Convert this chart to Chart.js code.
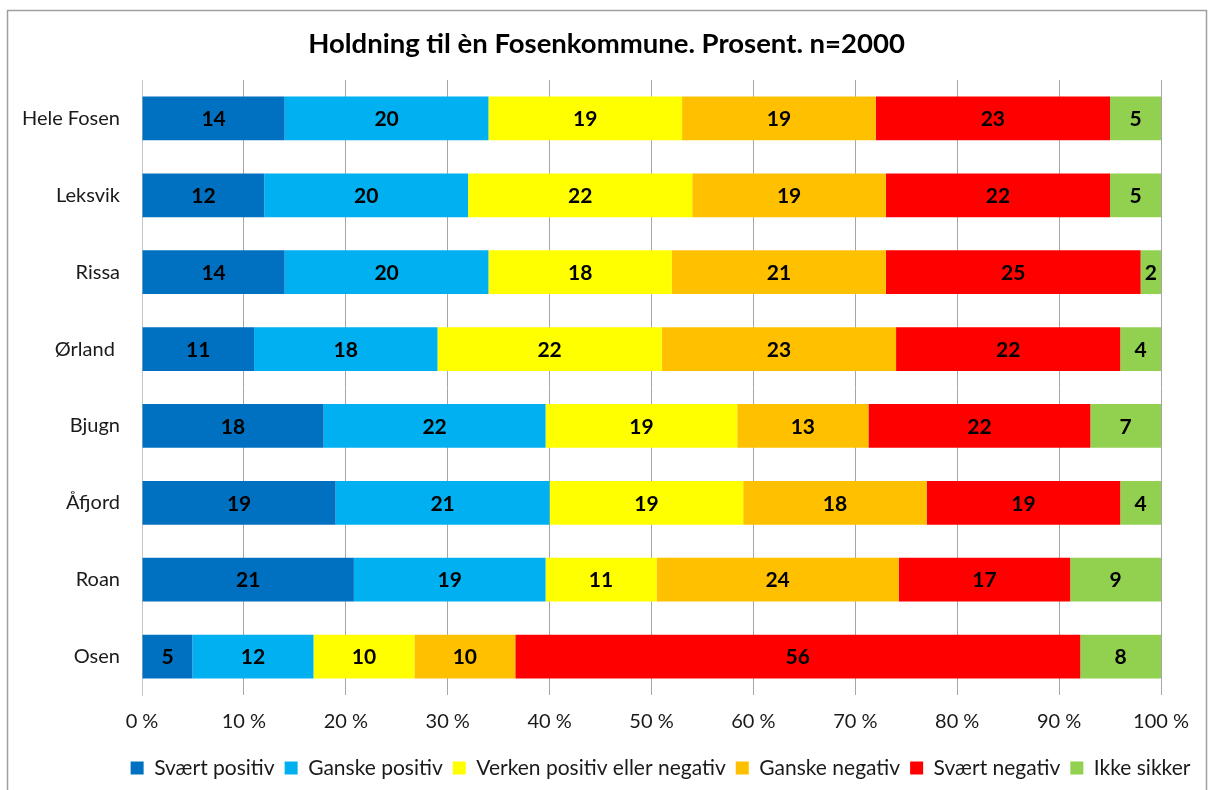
<!DOCTYPE html>
<html>
<head>
<meta charset="utf-8">
<title>Holdning til èn Fosenkommune</title>
<script src="https://cdn.jsdelivr.net/npm/chart.js@4.4.1/dist/chart.umd.min.js"></script>
<style>
    body { margin: 0; background: #ffffff; }
    canvas { display: block; }
</style>
</head>
<body>
<canvas id="myChart" width="1211" height="790"></canvas>
<script>
    // ----------- SETUP BLOCK ------------
    // Data (rounded percentages per kommune)
    const kommuner = ['Hele Fosen', 'Leksvik', 'Rissa', 'Ørland ', 'Bjugn', 'Åfjord', 'Roan', 'Osen'];

    const svaertPositiv = [14, 12, 14, 11, 18, 19, 21, 5];
    const ganskePositiv = [20, 20, 20, 18, 22, 21, 19, 12];
    const verken        = [19, 22, 18, 22, 19, 19, 11, 10];
    const ganskeNegativ = [19, 19, 21, 23, 13, 18, 24, 10];
    const svaertNegativ = [23, 22, 25, 22, 22, 19, 17, 56];
    const ikkeSikker    = [5, 5, 2, 4, 7, 4, 9, 8];

    const serieNavn = ['Svært positiv', 'Ganske positiv', 'Verken positiv eller negativ',
                       'Ganske negativ', 'Svært negativ', 'Ikke sikker'];
    const serieFarger = ['#0070C0', '#00B0F0', '#FFFF00', '#FFC000', '#FF0000', '#92D050'];
    const serier = [svaertPositiv, ganskePositiv, verken, ganskeNegativ, svaertNegativ, ikkeSikker];

    const xTicks = [0, 10, 20, 30, 40, 50, 60, 70, 80, 90, 100];

    // 100 % stacked: each row is scaled by its own total
    const totaler = kommuner.map((k, i) => serier.reduce((sum, s) => sum + s[i], 0));

    const data = {
        labels: kommuner,
        datasets: serier.map((s, j) => ({
            label: serieNavn[j],
            data: s.map((v, i) => v / totaler[i] * 100),
            raw: s,
            backgroundColor: serieFarger[j],
            borderWidth: 0,
            barPercentage: 0.57,
            categoryPercentage: 1.0
        }))
    };

    const fontFamily = 'Lato, "Open Sans", sans-serif';

    // value labels in the middle of each segment
    const verdiEtiketter = {
        id: 'verdiEtiketter',
        afterDatasetsDraw(chart) {
            const ctx = chart.ctx;
            ctx.save();
            ctx.font = 'bold 21px ' + fontFamily;
            ctx.fillStyle = '#000000';
            ctx.textAlign = 'center';
            ctx.textBaseline = 'middle';
            chart.data.datasets.forEach((ds, j) => {
                chart.getDatasetMeta(j).data.forEach((bar, i) => {
                    const x = (bar.x + bar.base) / 2;
                    ctx.fillText(String(ds.raw[i]), x, bar.y + 1);
                });
            });
            ctx.restore();
        }
    };

    // white background + gray frame
    const ramme = {
        id: 'ramme',
        beforeDraw(chart) {
            const ctx = chart.ctx;
            ctx.save();
            ctx.fillStyle = '#ffffff';
            ctx.fillRect(0, 0, chart.width, chart.height);
            ctx.strokeStyle = '#a0a0a0';
            ctx.lineWidth = 1.5;
            ctx.strokeRect(7.5, 10.5, 1199, 800);
            ctx.restore();
        }
    };

    // title and legend are centered on the frame, not on the plot
    const flytt = {
        id: 'flytt',
        afterLayout(chart) {
            const t = chart.titleBlock;
            if (t) { t.left += 26; t.right += 26; }
            const l = chart.legend;
            if (l) { l.left += 80; l.right += 80; }
        }
    };

    // ----- CONFIGURATION BLOCK --------
    const config = {
        type: 'bar',
        data: data,
        options: {
            indexAxis: 'y',
            responsive: false,
            animation: false,
            layout: {
                padding: { left: 0, right: 50, top: 0, bottom: 1.5 }
            },
            scales: {
                x: {
                    stacked: true,
                    min: 0,
                    max: 100,
                    afterBuildTicks: (s) => { s.ticks = xTicks.map(v => ({ value: v })); },
                    afterFit: (s) => { s.height = 52.5; },
                    ticks: {
                        padding: 15,
                        color: '#1a1a1a',
                        font: { family: fontFamily, size: 20 },
                        callback: (v) => v + ' %'
                    },
                    grid: {
                        color: (c) => c.index === 0 ? '#c4c4c4' : '#a6a6a6',
                        lineWidth: 1,
                        drawTicks: false
                    },
                    border: { display: false }
                },
                y: {
                    stacked: true,
                    afterFit: (s) => { s.width = 142; },
                    ticks: {
                        padding: 22,
                        color: '#1a1a1a',
                        font: { family: fontFamily, size: 20 }
                    },
                    grid: { display: false, drawTicks: false },
                    border: { display: true, color: '#c4c4c4', width: 1 }
                }
            },
            plugins: {
                tooltip: { enabled: false },
                title: {
                    display: true,
                    text: 'Holdning til èn Fosenkommune. Prosent. n=2000',
                    color: '#000000',
                    font: { family: fontFamily, size: 27.5, weight: 'bold' },
                    padding: { top: 28, bottom: 19 }
                },
                legend: {
                    position: 'bottom',
                    labels: {
                        color: '#1a1a1a',
                        boxWidth: 13,
                        boxHeight: 13,
                        padding: 10,
                        font: { family: fontFamily, size: 21 }
                    }
                }
            }
        },
        plugins: [ramme, verdiEtiketter, flytt]
    };

    // -------- RENDER BLOCK -------
    const myChart = new Chart(document.getElementById('myChart').getContext('2d'), config);
</script>
</body>
</html>
